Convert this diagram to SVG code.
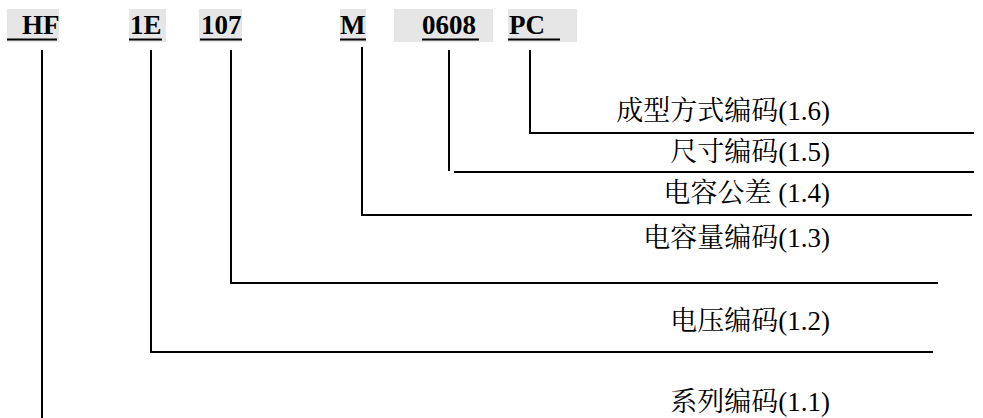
<svg xmlns="http://www.w3.org/2000/svg" width="983" height="418" viewBox="0 0 983 418">
<style>
.bg{fill:#e6e6e6}
.code{font-family:"Liberation Serif","Times New Roman",serif;font-weight:bold;font-size:27px;fill:#000}
.ul{stroke:#000;stroke-width:2}
.lbl{font-family:"Liberation Serif","Noto Serif CJK SC","Noto Sans CJK SC",serif;font-size:27px;fill:#000;text-anchor:end}
.ln{stroke:#000;stroke-width:2;fill:none}
</style>
<rect width="983" height="418" fill="#fff"/>
<g id="code-HF">
<rect class="bg" x="7" y="9" width="52" height="33"/>
<text class="code" x="22" y="34">HF</text>
<line class="ul" x1="7" y1="39.5" x2="57" y2="39.5"/>
</g>
<g id="code-1E">
<rect class="bg" x="129" y="9" width="37" height="33"/>
<text class="code" x="130" y="34">1E</text>
<line class="ul" x1="129" y1="39.5" x2="162" y2="39.5"/>
</g>
<g id="code-107">
<rect class="bg" x="199" y="9" width="43" height="33"/>
<text class="code" x="201" y="34">107</text>
<line class="ul" x1="200" y1="39.5" x2="242" y2="39.5"/>
</g>
<g id="code-M">
<rect class="bg" x="340" y="9" width="26" height="33"/>
<text class="code" x="340" y="34">M</text>
<line class="ul" x1="340" y1="39.5" x2="366" y2="39.5"/>
</g>
<g id="code-0608">
<rect class="bg" x="394" y="9" width="99" height="33"/>
<text class="code" x="422" y="34">0608</text>
<line class="ul" x1="422" y1="39.5" x2="479" y2="39.5"/>
</g>
<g id="code-PC">
<rect class="bg" x="508" y="9" width="69" height="33"/>
<text class="code" x="509" y="34">PC</text>
<line class="ul" x1="508" y1="39.5" x2="560" y2="39.5"/>
</g>
<g id="connectors">
<polyline class="ln" points="530,50 530,133 974,133"/>
<line class="ln" x1="449" y1="50" x2="449" y2="171"/>
<line class="ln" x1="454" y1="172" x2="974" y2="172"/>
<polyline class="ln" points="362,47 362,215 972,215"/>
<polyline class="ln" points="231,50 231,283 938,283"/>
<polyline class="ln" points="151,50 151,352 933,352"/>
<line class="ln" x1="42" y1="50" x2="42" y2="418"/>
</g>
<g id="label-1-6"><text class="lbl" x="830" y="120">成型方式编码(1.6)</text></g>
<g id="label-1-5"><text class="lbl" x="830" y="161">尺寸编码(1.5)</text></g>
<g id="label-1-4"><text class="lbl" x="830" y="202">电容公差 (1.4)</text></g>
<g id="label-1-3"><text class="lbl" x="830" y="247">电容量编码(1.3)</text></g>
<g id="label-1-2"><text class="lbl" x="830" y="330">电压编码(1.2)</text></g>
<g id="label-1-1"><text class="lbl" x="830" y="411">系列编码(1.1)</text></g>
</svg>
